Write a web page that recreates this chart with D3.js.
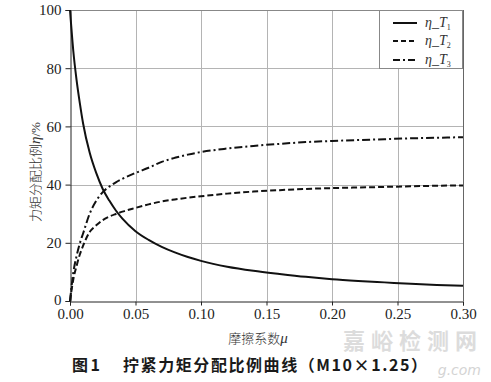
<!DOCTYPE html>
<html>
<head>
<meta charset="utf-8">
<script src="https://cdn.jsdelivr.net/npm/d3@7"></script>
<style>
  body { margin: 0; background: #fff; }
  svg { display: block; }
</style>
</head>
<body>
<svg width="491" height="382"></svg>
<script>
// friction coefficient samples and the three ratio curves (%)
var mu = [0, 0.0025, 0.005, 0.0075, 0.01, 0.015, 0.02, 0.025, 0.03, 0.035, 0.04, 0.05,
          0.06, 0.07, 0.08, 0.09, 0.10, 0.12, 0.14, 0.16, 0.18, 0.20, 0.22, 0.24, 0.26, 0.28, 0.30];
var etaT1 = [100, 86, 76, 68, 61, 51, 44, 38.5, 34.5, 31.1, 28.3, 24,
             21, 18.6, 16.7, 15.1, 13.8, 11.8, 10.4, 9.3, 8.3, 7.5, 6.9, 6.4, 5.9, 5.5, 5.2];
var etaT2 = [0, 7.4, 12, 16, 19, 23.7, 26, 27.8, 29, 29.9, 30.7, 32,
             33.2, 34.2, 34.9, 35.5, 36, 36.9, 37.6, 38.1, 38.5, 38.8, 39.0, 39.2, 39.4, 39.6, 39.7];
var etaT3 = [0, 9.7, 15.4, 19.8, 23.2, 30, 34.4, 37.4, 39.3, 40.8, 42, 44,
             45.8, 47.8, 49.2, 50.3, 51.2, 52.4, 53.3, 54, 54.6, 55, 55.3, 55.6, 55.9, 56.1, 56.3];
var xTicks = [0, 0.05, 0.10, 0.15, 0.20, 0.25, 0.30];
var yTicks = [0, 20, 40, 60, 80, 100];
var seriesNames = ["1", "2", "3"];
var dashes = [null, "6,3", "8,3,2,3"];

var svg = d3.select("svg"),
    serif = "'Liberation Serif', 'DejaVu Serif', serif",
    cjk = "'Noto Sans CJK SC', sans-serif";

var x = d3.scaleLinear().domain([0, 0.30]).range([70, 463]),
    y = d3.scaleLinear().domain([0, 100]).range([301, 10]);

// grid
var grid = svg.append("g").attr("stroke", "#b4b4b4").attr("stroke-width", 1);
grid.selectAll(".gx").data(xTicks.slice(1)).enter().append("line")
    .attr("x1", function(d) { return Math.round(x(d)) + 0.5; })
    .attr("x2", function(d) { return Math.round(x(d)) + 0.5; })
    .attr("y1", y(100)).attr("y2", y(0));
grid.selectAll(".gy").data(yTicks.slice(1)).enter().append("line")
    .attr("y1", function(d) { return Math.round(y(d)) + 0.5; })
    .attr("y2", function(d) { return Math.round(y(d)) + 0.5; })
    .attr("x1", x(0)).attr("x2", x(0.30));

// frame right / top
svg.append("line").attr("x1", Math.round(x(0.30)) + 0.5).attr("x2", Math.round(x(0.30)) + 0.5)
    .attr("y1", y(100)).attr("y2", y(0)).attr("stroke", "#666");
svg.append("line").attr("x1", x(0)).attr("x2", x(0.30))
    .attr("y1", Math.round(y(100)) + 0.5).attr("y2", Math.round(y(100)) + 0.5).attr("stroke", "#888");

// axes
var xAxis = d3.axisBottom(x).tickValues(xTicks).tickFormat(d3.format(".2f")).tickSize(4).tickPadding(3);
var yAxis = d3.axisLeft(y).tickValues(yTicks).tickSize(5).tickPadding(4);

var gx = svg.append("g").attr("transform", "translate(0," + (Math.round(y(0)) + 0.5) + ")").call(xAxis);
var gy = svg.append("g").attr("transform", "translate(" + (Math.round(x(0)) + 0.5) + ",0)").call(yAxis);
[gx, gy].forEach(function(g) {
  g.attr("font-family", null).attr("font-size", null);
  g.select(".domain").attr("stroke", "#222");
  g.selectAll(".tick line").attr("stroke", "#222");
  g.selectAll("text").style("font-family", serif).style("font-size", "15px").attr("fill", "#222");
});
gy.select(".tick text").attr("dy", "0.2em");

// curves
var allSeries = [etaT1, etaT2, etaT3];
var line = d3.line()
    .x(function(d, i) { return x(mu[i]); })
    .y(function(d) { return y(d); })
    .curve(d3.curveMonotoneX);

svg.append("g").selectAll("path").data(allSeries).enter().append("path")
    .attr("d", line)
    .attr("fill", "none")
    .attr("stroke", "#111")
    .attr("stroke-width", 2)
    .attr("stroke-dasharray", function(d, i) { return dashes[i]; });

// legend
var lg = svg.append("g");
lg.append("rect").attr("x", 379.5).attr("y", 10.5).attr("width", 83).attr("height", 58)
    .attr("fill", "#fff").attr("stroke", "#888");
var rows = lg.selectAll(".row").data(seriesNames).enter().append("g")
    .attr("transform", function(d, i) { return "translate(0," + [23, 41, 60][i] + ")"; });
rows.append("line").attr("x1", 393).attr("x2", 417).attr("y1", 0).attr("y2", 0)
    .attr("stroke", "#111").attr("stroke-width", 2)
    .attr("stroke-dasharray", function(d, i) { return [null, "5,3", "7,3,2,3"][i]; });
var lt = rows.append("text").attr("x", 425).attr("y", 4)
    .style("font-family", serif).attr("font-size", 14).attr("font-style", "italic").attr("fill", "#333");
lt.append("tspan").text("\u03b7_T");
lt.append("tspan").attr("font-size", 8).attr("font-style", "normal").attr("dy", 3)
    .text(function(d) { return d; });

// axis titles
var xt = svg.append("text").attr("x", 258).attr("y", 343).attr("text-anchor", "middle")
    .style("font-family", cjk).attr("font-size", 13).attr("font-weight", 300).attr("fill", "#333");
xt.append("tspan").text("摩擦系数");
xt.append("tspan").style("font-family", serif).attr("font-style", "italic").attr("font-size", 15).text("\u03bc");

var yt = svg.append("text").attr("transform", "translate(40,172) rotate(-90)").attr("text-anchor", "middle")
    .style("font-family", cjk).attr("font-size", 13).attr("font-weight", 300).attr("fill", "#333");
yt.append("tspan").text("力矩分配比例");
yt.append("tspan").style("font-family", serif).attr("font-style", "italic").attr("font-size", 15).text("\u03b7");
yt.append("tspan").style("font-family", serif).attr("font-size", 13).text("/%");

// watermark
svg.append("text").attr("x", 343).attr("y", 349)
    .attr("textLength", 134).attr("lengthAdjust", "spacing")
    .style("font-family", cjk).attr("font-weight", 700).attr("font-size", 22).attr("fill", "#dcdcdc")
    .text("嘉峪检测网");
svg.append("text").attr("x", 481).attr("y", 375).attr("text-anchor", "end")
    .style("font-family", "'DejaVu Sans', sans-serif").attr("font-style", "italic").attr("font-size", 14)
    .attr("fill", "#d4d4d4").text("g.com");

// caption
var cap = svg.append("g").style("font-family", cjk).attr("font-weight", 700)
    .attr("font-size", 16).attr("fill", "#1a1a1a");
cap.append("text").attr("x", 72).attr("y", 371).attr("textLength", 28).attr("lengthAdjust", "spacing")
    .text("图 1");
cap.append("text").attr("x", 123).attr("y", 371).attr("textLength", 304).attr("lengthAdjust", "spacing")
    .text("拧紧力矩分配比例曲线（M10×1.25）");
</script>
</body>
</html>
